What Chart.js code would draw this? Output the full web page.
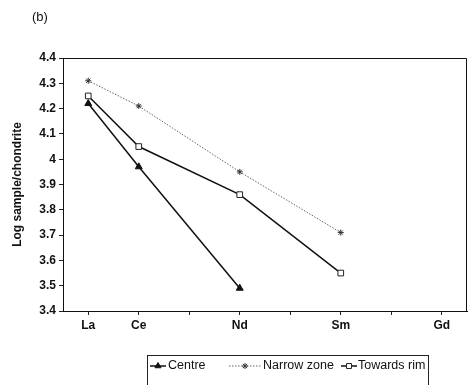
<!DOCTYPE html>
<html>
<head>
<meta charset="utf-8">
<script src="https://cdn.jsdelivr.net/npm/chart.js@4/dist/chart.umd.min.js"></script>
<style>
  html, body { margin: 0; padding: 0; background: #fff; }
  #wrap { width: 472px; height: 385px; position: relative; }
</style>
</head>
<body>
<div id="wrap"><canvas id="c" width="472" height="385"></canvas></div>
<script>
// Rare-earth elements along the x axis (every slot gets a tick, only some are labelled)
const elements = ['La', 'Ce', 'Pr', 'Nd', 'Pm', 'Sm', 'Eu', 'Gd'];
const elementLabels = ['La', 'Ce', '', 'Nd', '', 'Sm', '', 'Gd'];

// Log sample/chondrite values per zone
const centre     = [4.22, 3.97, null, 3.49, null, null, null, null];
const narrowZone = [4.31, 4.21, null, 3.95, null, 3.71, null, null];
const towardsRim = [4.25, 4.05, null, 3.86, null, 3.55, null, null];

const seriesNames = ['Centre', 'Narrow zone', 'Towards rim'];

// y axis range and tick step
const yMin = 3.4, yMax = 4.4, yStep = 0.1;

const FONT = '"Liberation Sans", Arial, Helvetica, sans-serif';

// Frame around the plot area, "(b)" panel tag and a boxed legend at the bottom
const decorations = {
  id: 'decorations',
  afterDraw(chart) {
    const ctx = chart.ctx;
    const a = chart.chartArea;
    ctx.save();
    ctx.strokeStyle = '#111';
    ctx.lineWidth = 1;
    ctx.beginPath();
    ctx.moveTo(a.left, a.top + 0.5);
    ctx.lineTo(a.right - 0.5, a.top + 0.5);
    ctx.lineTo(a.right - 0.5, a.bottom);
    ctx.stroke();

    ctx.fillStyle = '#111';
    ctx.font = '13px ' + FONT;
    ctx.textBaseline = 'middle';
    ctx.textAlign = 'left';
    ctx.fillText('(b)', 32, 17);

    // legend box
    ctx.strokeStyle = '#222';
    ctx.lineWidth = 1;
    ctx.strokeRect(147.5, 355.5, 281, 40);

    const y = 366;
    const items = [
      { ds: 0, x0: 150, x1: 166, tx: 168 },
      { ds: 1, x0: 229, x1: 261, tx: 263 },
      { ds: 2, x0: 341, x1: 357, tx: 358 }
    ];
    ctx.font = '12.5px ' + FONT;
    items.forEach(it => {
      const ds = chart.data.datasets[it.ds];
      ctx.save();
      ctx.strokeStyle = ds.borderColor;
      ctx.lineWidth = ds.borderWidth;
      ctx.setLineDash(ds.borderDash || []);
      ctx.beginPath();
      ctx.moveTo(it.x0, y);
      ctx.lineTo(it.x1, y);
      ctx.stroke();
      ctx.setLineDash([]);
      ctx.fillStyle = ds.pointBackgroundColor;
      ctx.strokeStyle = ds.pointBorderColor;
      ctx.lineWidth = ds.pointBorderWidth || 1;
      Chart.helpers.drawPoint(ctx, {
        pointStyle: ds.pointStyle,
        radius: Math.min(ds.pointRadius, 3.5),
        borderWidth: ds.pointBorderWidth || 1,
        rotation: 0
      }, (it.x0 + it.x1) / 2, y);
      ctx.restore();
      ctx.fillStyle = '#111';
      ctx.fillText(seriesNames[it.ds], it.tx, y);
    });
    ctx.restore();
  }
};

new Chart(document.getElementById('c'), {
  type: 'line',
  data: {
    labels: elements,
    datasets: [
      {
        label: seriesNames[0],
        data: centre,
        borderColor: '#111',
        backgroundColor: '#111',
        borderWidth: 1.5,
        pointStyle: 'triangle',
        pointRadius: 4,
        pointBackgroundColor: '#111',
        pointBorderColor: '#111',
        pointBorderWidth: 1,
        spanGaps: true,
        tension: 0
      },
      {
        label: seriesNames[1],
        data: narrowZone,
        borderColor: '#666',
        backgroundColor: '#333',
        borderWidth: 1,
        borderDash: [1.5, 1.5],
        pointStyle: 'star',
        pointRadius: 3,
        pointBackgroundColor: '#333',
        pointBorderColor: '#333',
        pointBorderWidth: 1,
        spanGaps: true,
        tension: 0
      },
      {
        label: seriesNames[2],
        data: towardsRim,
        borderColor: '#111',
        backgroundColor: '#fff',
        borderWidth: 1.5,
        pointStyle: 'rect',
        pointRadius: 4,
        pointBackgroundColor: '#fff',
        pointBorderColor: '#222',
        pointBorderWidth: 1,
        spanGaps: true,
        tension: 0
      }
    ]
  },
  options: {
    responsive: false,
    animation: false,
    devicePixelRatio: 1,
    layout: { padding: { top: 58, right: 4, left: 0, bottom: 44 } },
    plugins: {
      legend: { display: false },
      tooltip: { enabled: false },
      title: { display: false }
    },
    scales: {
      x: {
        type: 'category',
        offset: true,
        afterFit(s) { s.height = 30; },
        grid: {
          offset: false,
          drawOnChartArea: false,
          drawTicks: true,
          tickLength: 4,
          color: '#222'
        },
        border: { display: true, color: '#111', width: 1 },
        ticks: {
          autoSkip: false,
          maxRotation: 0,
          padding: 3,
          color: '#111',
          font: { family: FONT, size: 12, weight: 'bold' },
          callback: (v, i) => elementLabels[i]
        }
      },
      y: {
        min: yMin,
        max: yMax,
        afterFit(s) { s.width = 63; },
        grid: {
          drawOnChartArea: false,
          drawTicks: true,
          tickLength: 4,
          color: '#222'
        },
        border: { display: true, color: '#111', width: 1 },
        ticks: {
          stepSize: yStep,
          padding: 3,
          color: '#111',
          font: { family: FONT, size: 12, weight: 'bold' },
          callback: v => String(Math.round(v * 10) / 10)
        },
        title: {
          display: true,
          text: 'Log sample/chondrite',
          color: '#111',
          font: { family: FONT, size: 12, weight: 'bold' },
          padding: { top: 10, bottom: 0 }
        }
      }
    }
  },
  plugins: [decorations]
});
</script>
</body>
</html>
